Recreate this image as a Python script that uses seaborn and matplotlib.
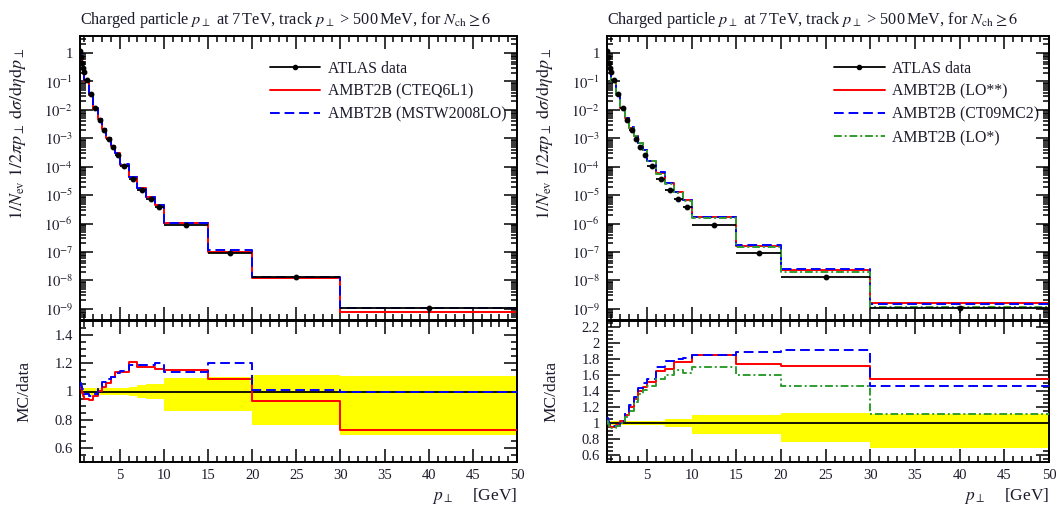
import numpy as np
import pandas as pd
import matplotlib
matplotlib.use("Agg")
import matplotlib.pyplot as plt
import seaborn as sns
from matplotlib.ticker import (MultipleLocator, FixedLocator, FuncFormatter,
                               NullFormatter)
from matplotlib.lines import Line2D

# ---------------- data ----------------
bin_edges = [0.5, 0.6, 0.7, 0.8, 0.9, 1.0, 1.5, 2.0, 2.5, 3.0, 3.5, 4.0, 4.5,
             5, 6, 7, 8, 9, 10, 15, 20, 30, 50]
atlas_data = [1.2, 0.72, 0.46, 0.31, 0.21, 0.11, 0.036, 0.0115, 0.0046, 0.0020,
              9.5e-4, 4.9e-4, 2.7e-4, 1.05e-4, 3.7e-5, 1.55e-5, 7.3e-6, 3.8e-6,
              9.0e-7, 9.5e-8, 1.35e-8, 1.05e-9]
data_err_up = [0.025, 0.025, 0.025, 0.025, 0.025, 0.025, 0.025, 0.025, 0.025, 0.025,
               0.025, 0.025, 0.025, 0.025, 0.03, 0.045, 0.055, 0.055,
               0.095, 0.10, 0.12, 0.11]
data_err_dn = [0.025, 0.025, 0.025, 0.025, 0.025, 0.025, 0.025, 0.025, 0.025, 0.025,
               0.025, 0.025, 0.025, 0.025, 0.03, 0.045, 0.055, 0.055,
               0.135, 0.14, 0.235, 0.31]

# left panel: MC/data ratios
ratio_cteq6l1 = [1.05, 1.02, 0.99, 0.97, 0.96, 0.95, 0.94, 0.97, 1.005, 1.03, 1.06,
                 1.10, 1.135, 1.14, 1.21, 1.175, 1.175, 1.16, 1.15, 1.09, 0.935, 0.73]
ratio_mstw = [1.06, 1.04, 1.02, 1.01, 1.00, 0.985, 0.967, 0.984, 1.03, 1.066, 1.09,
              1.10, 1.13, 1.145, 1.19, 1.185, 1.19, 1.20, 1.14, 1.20, 1.01, 1.00]
# right panel: MC/data ratios
ratio_lo2star = [1.04, 1.00, 0.97, 0.955, 0.95, 0.95, 0.97, 1.02, 1.10, 1.20, 1.30,
                 1.40, 1.45, 1.51, 1.65, 1.68, 1.76, 1.76, 1.85, 1.745, 1.72, 1.55]
ratio_ct09mc2 = [1.06, 1.02, 0.99, 0.97, 0.96, 0.965, 0.96, 1.03, 1.12, 1.22, 1.33,
                 1.44, 1.50, 1.55, 1.70, 1.78, 1.80, 1.82, 1.85, 1.89, 1.915, 1.46]
ratio_lostar = [1.03, 0.99, 0.96, 0.94, 0.935, 0.94, 0.96, 1.00, 1.07, 1.15, 1.26,
                1.36, 1.42, 1.47, 1.55, 1.60, 1.66, 1.63, 1.70, 1.60, 1.46, 1.115]

left_labels = ["AMBT2B (CTEQ6L1)", "AMBT2B (MSTW2008LO)"]
right_labels = ["AMBT2B (LO**)", "AMBT2B (CT09MC2)", "AMBT2B (LO*)"]

title = r"Charged particle $p_\perp$ at 7$\,$TeV, track $p_\perp$ > 500$\,$MeV, for $N_\mathrm{ch} \geq 6$"
ylab_top = r"$1/N_\mathrm{ev}\ 1/2\pi p_\perp\ \mathrm{d}\sigma/\mathrm{d}\eta\mathrm{d}p_\perp$"
ylab_ratio = "MC/data"
xlab = r"$p_\perp$    [GeV]"

# ---------------- style ----------------
sns.set_theme(style="ticks")
plt.rcParams["font.family"] = ["Liberation Serif", "DejaVu Serif"]
plt.rcParams["mathtext.fontset"] = "stix"
plt.rcParams["text.color"] = "#1c1c2c"
plt.rcParams["axes.labelcolor"] = "#1c1c2c"
plt.rcParams["xtick.color"] = "black"
plt.rcParams["ytick.color"] = "black"
plt.rcParams["xtick.labelcolor"] = "#1c1c2c"
plt.rcParams["ytick.labelcolor"] = "#1c1c2c"

RED = "#ff0000"
BLUE = "#0000ff"
GREEN = "#2f9e2f"
YELLOW = "#ffff00"

edges = np.array(bin_edges)
centers = 0.5 * (edges[1:] + edges[:-1])
halfw = 0.5 * (edges[1:] - edges[:-1])
data = np.array(atlas_data)
eup = np.array(data_err_up)
edn = np.array(data_err_dn)

YMIN_LOG, YMAX_LOG = -9.39, 0.6
major_decades = [10.0 ** k for k in range(-9, 1)]
minor_decades = [m * 10.0 ** k for k in range(-10, 1) for m in range(2, 10)
                 if 10 ** YMIN_LOG <= m * 10.0 ** k <= 10 ** YMAX_LOG]

fig = plt.figure(figsize=(10.6, 5.05), dpi=100)
W, H = 1060.0, 505.0


def add_ax(x0, x1, y0, y1):
    return fig.add_axes([x0 / W, 1 - y1 / H, (x1 - x0) / W, (y1 - y0) / H])


def step_df(vals):
    v = list(vals) + [vals[-1]]
    return pd.DataFrame({"x": edges, "y": v})


def style_axes(ax):
    ax.set_xlim(0.5, 50)
    ax.xaxis.set_major_locator(FixedLocator(np.arange(5, 51, 5)))
    ax.xaxis.set_minor_locator(FixedLocator(np.arange(1, 51, 1)))
    ax.tick_params(which="both", direction="in", top=True, right=True,
                   bottom=True, left=True, width=1.1, labelsize=10.5, pad=5)
    ax.tick_params(which="major", length=9.5)
    ax.tick_params(which="minor", length=4.5)
    for s in ax.spines.values():
        s.set_linewidth(1.4)
        s.set_color("black")
    ax.grid(False)


def draw_panel(x0, x1, ratios, labels, colors, styles, ylim_r, rticks, leg_anchor):
    ax = add_ax(x0, x1, 36, 320)
    axr = add_ax(x0, x1, 321, 462)

    # top panel: MC histograms (MC = ratio * data)
    handles = [Line2D([], [], color="black", lw=1.3, marker="o", ms=3)]
    for r, lab, c, ls in zip(ratios, labels, colors, styles):
        mc = np.array(r) * data
        sns.lineplot(data=step_df(mc), x="x", y="y", ax=ax, color=c, lw=1.4,
                     linestyle=ls, drawstyle="steps-post", estimator=None,
                     sort=False)
        handles.append(Line2D([], [], color=c, lw=1.4, linestyle=ls))
    ax.errorbar(centers, data, xerr=halfw, yerr=[data * edn, data * eup],
                fmt="o", ms=3.2, color="black", lw=1.3, capsize=0, zorder=5)
    ax.set_yscale("log")
    ax.set_ylim(10 ** YMIN_LOG, 10 ** YMAX_LOG)
    ax.yaxis.set_major_locator(FixedLocator(major_decades))
    ax.yaxis.set_minor_locator(FixedLocator(minor_decades))
    ax.yaxis.set_minor_formatter(NullFormatter())
    ax.yaxis.set_major_formatter(FuncFormatter(
        lambda v, p: "1" if abs(np.log10(v)) < 1e-6 else r"$10^{%d}$" % round(np.log10(v))))
    style_axes(ax)
    ax.tick_params(labelbottom=False)
    ax.set_xlabel("")
    ax.set_ylabel(ylab_top, fontsize=13, loc="top")
    ax.yaxis.set_label_coords(-52 / (x1 - x0), (320 - 48) / 284.0)
    ax.set_title(title, loc="left", fontsize=11.7, pad=9)
    ax.legend(handles, ["ATLAS data"] + labels, loc="upper left",
              bbox_to_anchor=leg_anchor, frameon=False, fontsize=11.3,
              handlelength=3.2, handletextpad=0.5, labelspacing=0.45,
              borderaxespad=0)

    # ratio panel
    axr.fill_between(edges, np.append(1 - edn, 1 - edn[-1]),
                     np.append(1 + eup, 1 + eup[-1]), step="post",
                     color=YELLOW, lw=0, zorder=1)
    axr.axhline(1.0, color="black", lw=1.3, zorder=3)
    for r, c, ls in zip(ratios, colors, styles):
        sns.lineplot(data=step_df(r), x="x", y="y", ax=axr, color=c, lw=1.4,
                     linestyle=ls, drawstyle="steps-post", estimator=None,
                     sort=False, zorder=4)
    axr.set_ylim(*ylim_r)
    axr.yaxis.set_major_locator(FixedLocator(rticks))
    minors = np.round(np.arange(ylim_r[0], ylim_r[1], 0.05) * 20) / 20
    axr.yaxis.set_minor_locator(FixedLocator(
        [m for m in minors if ylim_r[0] <= m <= ylim_r[1]]))
    axr.yaxis.set_major_formatter(FuncFormatter(lambda v, p: "%g" % round(v, 2)))
    style_axes(axr)
    axr.set_ylabel(ylab_ratio, fontsize=12.5)
    axr.yaxis.set_label_coords(-48 / (x1 - x0), 0.5)
    axr.set_xlabel(xlab, fontsize=12.5, loc="right", labelpad=3)
    return ax, axr


draw_panel(80, 517, [ratio_cteq6l1, ratio_mstw], left_labels,
           [RED, BLUE], ["-", (0, (5, 2.5))], (0.5, 1.5),
           [0.6, 0.8, 1.0, 1.2, 1.4], (0.42, 0.935))
draw_panel(607, 1049, [ratio_lo2star, ratio_ct09mc2, ratio_lostar], right_labels,
           [RED, BLUE, GREEN], ["-", (0, (5, 2.5)), (0, (4, 1.5, 1, 1.5))],
           (0.51, 2.28), [0.6, 0.8, 1.0, 1.2, 1.4, 1.6, 1.8, 2.0, 2.2], (0.5, 0.935))

fig.savefig("out.png", dpi=100)
